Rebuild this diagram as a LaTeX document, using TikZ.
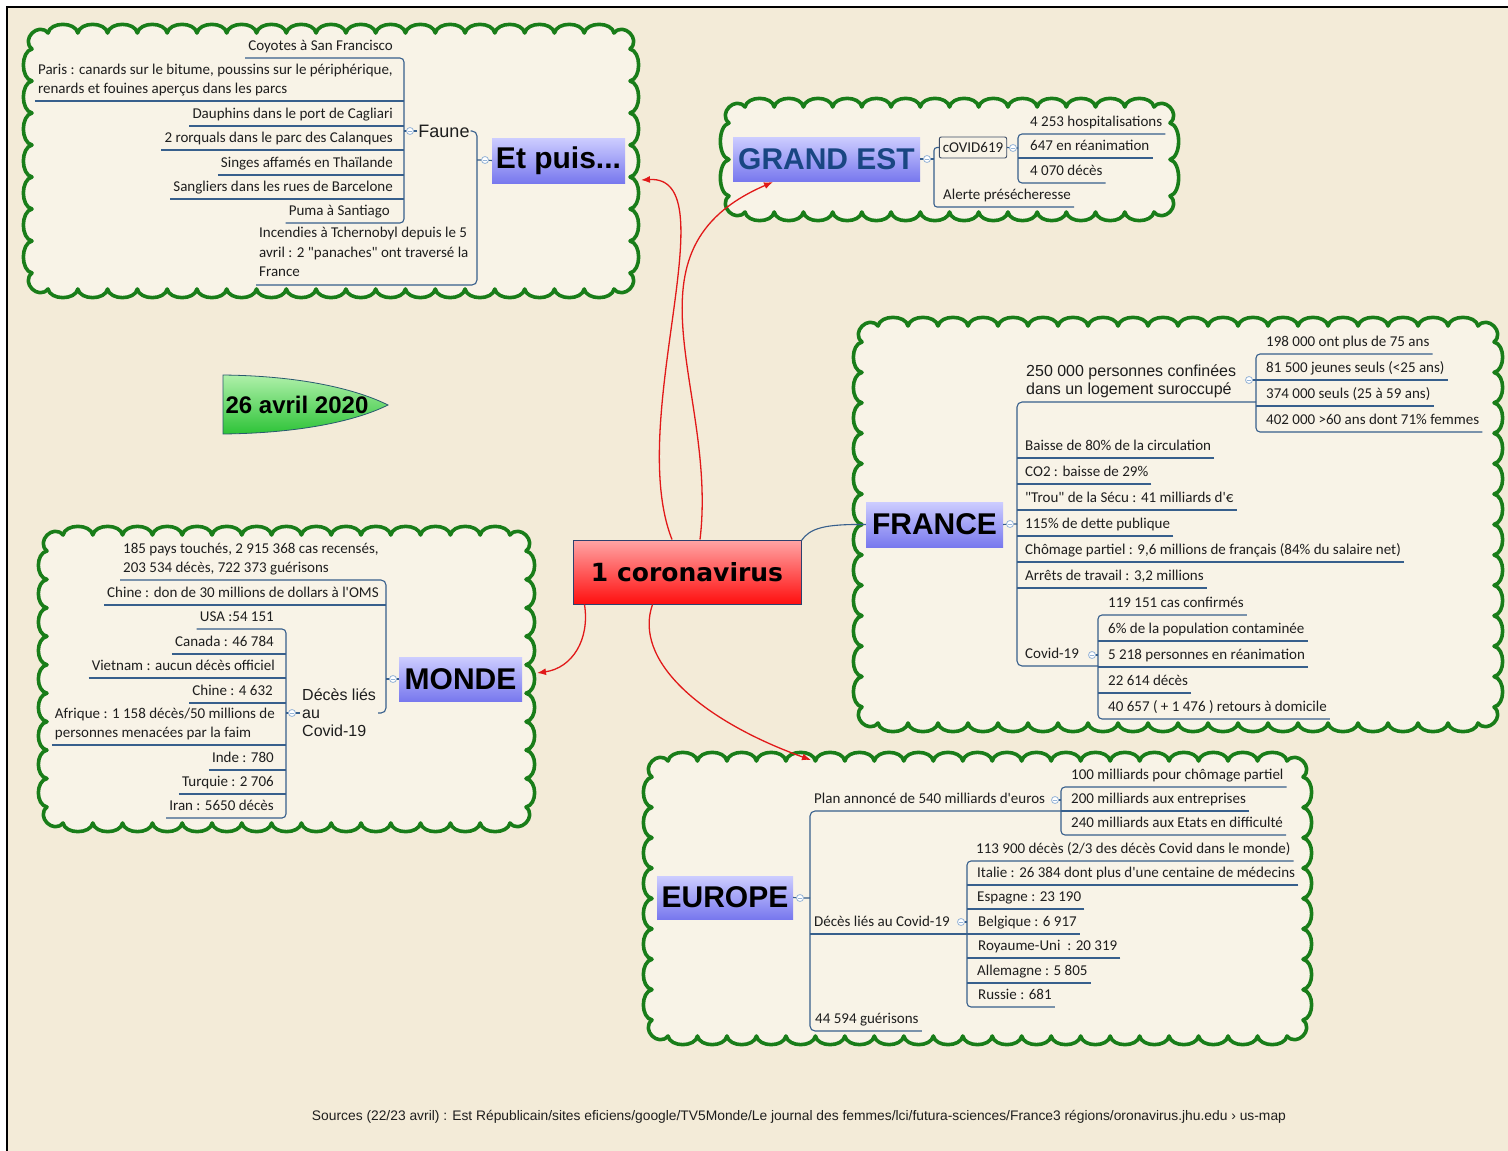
\documentclass[tikz,border=0pt]{standalone}
\usepackage{fontspec}
\setmainfont{Carlito}
\newfontfamily\arialf{Liberation Sans}
\newfontfamily\dejaf{DejaVu Sans}
\usepackage{graphicx}
\usetikzlibrary{arrows.meta}

\definecolor{bg}{RGB}{243,235,216}
\definecolor{cloudfill}{RGB}{248,243,231}
\definecolor{cloudgreen}{RGB}{25,125,25}
\definecolor{conncol}{RGB}{55,95,140}
\definecolor{lavtop}{RGB}{205,205,255}
\definecolor{lavbot}{RGB}{120,120,238}
\definecolor{redtop}{RGB}{255,165,165}
\definecolor{redbot}{RGB}{255,15,15}
\definecolor{cvborder}{RGB}{45,65,110}
\definecolor{arrowred}{RGB}{225,25,25}
\definecolor{knobcol}{RGB}{150,180,215}
\definecolor{gestext}{RGB}{25,70,130}
\definecolor{greentop}{RGB}{175,240,170}
\definecolor{greenbot}{RGB}{45,195,55}
\definecolor{datebd}{RGB}{40,90,110}
\definecolor{textcol}{RGB}{30,30,30}
\definecolor{covcol}{RGB}{60,75,100}

\newcommand\leaffont{\fontsize{15}{19}\selectfont}
\newcommand\bigfont{\arialf\bfseries\fontsize{30}{32}\selectfont}
\newcommand\midfont{\arialf\fontsize{16}{18}\selectfont}
\newcommand\sq{\textquotesingle}
\newcommand\dq{\textquotedbl}

\newcommand\sbc{16}
\newcommand\sbk{11.5}
\newcommand\sbp{30}

\tikzset{
  cloud/.style={draw=cloudgreen, line width=3.6pt, fill=cloudfill, line join=round},
  conn/.style={draw=conncol, line width=1.1pt},
  redc/.style={draw=arrowred, line width=1.3pt, -{Latex[length=9pt,width=7pt]}},
  leaf/.style={font=\leaffont, text=textcol, inner xsep=3pt, inner ysep=2pt, align=left, execute at end node=\strut},
  lsE/.style={leaf, anchor=south east},
  lsW/.style={leaf, anchor=south west},
  maintopic/.style={inner sep=0pt, top color=lavtop, bottom color=lavbot, font=\bigfont, text=black},
  covbox/.style={draw=covcol, line width=0.9pt, rounded corners=2pt, fill=cloudfill, font=\leaffont, text=textcol, inner xsep=3.5pt, inner ysep=1pt, minimum height=21pt},
  knob/.style={circle, draw=knobcol, fill=white, line width=0.8pt, minimum size=7pt, inner sep=0pt,
    path picture={\draw[knobcol, line width=0.7pt] ([xshift=-2pt]path picture bounding box.center) -- ([xshift=2pt]path picture bounding box.center);}}
}

\newcommand\scallop[4]{%
  \pgfmathsetmacro\sxa{#1+\sbc}%
  \pgfmathsetmacro\sxb{#3-\sbc}%
  \pgfmathsetmacro\sya{#2+\sbc}%
  \pgfmathsetmacro\syb{#4-\sbc}%
  \pgfmathtruncatemacro\snh{max(1,round((\sxb-\sxa)/\sbp))}%
  \pgfmathtruncatemacro\snv{max(1,round((\syb-\sya)/\sbp))}%
  \pgfmathsetmacro\swh{(\sxb-\sxa)/\snh}%
  \pgfmathsetmacro\swv{(\syb-\sya)/\snv}%
  \path[cloud] (\sxa,#2)
   \foreach \i in {1,...,\snh}{ .. controls ({\sxa+(\i-0.92)*\swh},{#2-\sbk}) and ({\sxa+(\i-0.08)*\swh},{#2-\sbk}) .. ({\sxa+\i*\swh},#2) }
   .. controls ({\sxb+0.6*\sbc},{#2-\sbk}) and ({#3+\sbk},{\sya-0.6*\sbc}) .. (#3,\sya)
   \foreach \i in {1,...,\snv}{ .. controls ({#3+\sbk},{\sya+(\i-0.92)*\swv}) and ({#3+\sbk},{\sya+(\i-0.08)*\swv}) .. (#3,{\sya+\i*\swv}) }
   .. controls ({#3+\sbk},{\syb+0.6*\sbc}) and ({\sxb+0.6*\sbc},{#4+\sbk}) .. (\sxb,#4)
   \foreach \i in {1,...,\snh}{ .. controls ({\sxb-(\i-0.92)*\swh},{#4+\sbk}) and ({\sxb-(\i-0.08)*\swh},{#4+\sbk}) .. ({\sxb-\i*\swh},#4) }
   .. controls ({\sxa-0.6*\sbc},{#4+\sbk}) and ({#1-\sbk},{\syb+0.6*\sbc}) .. (#1,\syb)
   \foreach \i in {1,...,\snv}{ .. controls ({#1-\sbk},{\syb-(\i-0.92)*\swv}) and ({#1-\sbk},{\syb-(\i-0.08)*\swv}) .. (#1,{\syb-\i*\swv}) }
   .. controls ({#1-\sbk},{\sya-0.6*\sbc}) and ({\sxa-0.6*\sbc},{#2-\sbk}) .. (\sxa,#2) -- cycle;
}

\begin{document}
\begin{tikzpicture}[x=1pt,y=-1pt]
\useasboundingbox (0,0) rectangle (1508,1151);
\fill[white] (0,0) rectangle (1508,1151);
\fill[bg] (7,7) rectangle (1508,1151);
\draw[black, line width=2.5pt] (7,1151) -- (7,7) -- (1508,7);

% clouds
\scallop{32}{33}{630}{289}
\scallop{729}{107}{1170}{212}
\scallop{862}{326}{1494}{723}
\scallop{47}{535}{526}{823}
\scallop{652}{761}{1303}{1036}

% ---------- Box 1 : Et puis ----------
\node[maintopic, minimum width=133pt, minimum height=45pt] (ep) at (558.5,160.5) {Et puis...};
\coordinate (kep) at (485,160);
\coordinate (v0) at (477,0);
\node[font=\arialf\fontsize{18}{20}\selectfont, text=textcol, inner sep=1pt] (faune) at (444,131) {Faune};
\coordinate (kfa) at (410,131);
\coordinate (v1) at (404,0);
\node[lsE] (a1) at (396,58) {Coyotes à San Francisco};
\node[lsE] (a2) at (396,101) {Paris : canards sur le bitume, poussins sur le périphérique,\\renards et fouines aperçus dans les parcs};
\node[lsE] (a3) at (396,126) {Dauphins dans le port de Cagliari};
\node[lsE] (a4) at (396,150) {2 rorquals dans le parc des Calanques};
\node[lsE] (a5) at (396,175) {Singes affamés en Thaïlande};
\node[lsE] (a6) at (396,199) {Sangliers dans les rues de Barcelone};
\node[lsE] (a7) at (393,223) {Puma à Santiago};
\node[leaf, anchor=south west, font=\fontsize{15}{19.5}\selectfont] (ai) at (256,285) {Incendies à Tchernobyl depuis le 5\\avril : 2 \dq panaches\dq{} ont traversé la\\France};

\draw[conn] (ep.west) -- (kep) -- (kep -| v0);
\draw[conn, rounded corners=5pt] (faune.east) -- (faune.east -| v0) -- (ai.south west -| v0) -- (ai.south west);
\draw[conn] (faune.west) -- (kfa) -- (kfa -| v1);
\draw[conn, rounded corners=4pt] (a1.south west) -- (a1.south west -| v1) -- (a7.south west -| v1) -- (a7.south west);
\foreach \n in {a2,a3,a4,a5,a6} \draw[conn] (\n.south west) -- (\n.south west -| v1);

% ---------- Box 2 : Grand Est ----------
\node[maintopic, text=gestext, minimum width=187pt, minimum height=44pt] (ge) at (826.5,159) {GRAND EST};
\coordinate (kge) at (927,159);
\coordinate (v2) at (934,0);
\node[covbox] (cov) at (973,147.5) {cOVID619};
\coordinate (kcov) at (1013,148);
\coordinate (v3) at (1018,0);
\node[lsW] (g1) at (1027,134) {4 253 hospitalisations};
\node[lsW] (g2) at (1027,158) {647 en réanimation};
\node[lsW] (g3) at (1027,183) {4 070 décès};
\node[lsW] (g4) at (940,207) {Alerte présécheresse};

\draw[conn] (ge.east) -- (kge) -- (kge -| v2);
\draw[conn, rounded corners=3pt] (cov.west) -- (cov.west -| v2) -- (g4.south west -| v2) -- (g4.south east);
\draw[conn] (cov.east) -- (kcov) -- (kcov -| v3);
\draw[conn, rounded corners=4pt] (g1.south east) -- (g1.south west -| v3) -- (g3.south west -| v3) -- (g3.south east);
\draw[conn] (g2.south east) -- (g2.south west -| v3);

% ---------- Box 3 : France ----------
\node[maintopic, minimum width=137pt, minimum height=45pt] (fr) at (934.5,524.5) {FRANCE};
\coordinate (kfr) at (1010,524);
\coordinate (v4) at (1017,0);
\node[leaf, font=\midfont, anchor=south west] (f0) at (1023,402) {250 000 personnes confinées\\dans un logement suroccupé};
\coordinate (kf0) at (1249,380);
\coordinate (v5) at (1256,0);
\node[lsW] (p1) at (1263,354) {198 000 ont plus de 75 ans};
\node[lsW] (p2) at (1263,380) {81 500 jeunes seuls (<25 ans)};
\node[lsW] (p3) at (1263,406) {374 000 seuls (25 à 59 ans)};
\node[lsW] (p4) at (1263,432) {402 000 >60 ans dont 71\% femmes};
\node[lsW] (f1) at (1022,458) {Baisse de 80\% de la circulation};
\node[lsW] (f2) at (1022,484) {CO2 : baisse de 29\%};
\node[lsW] (f3) at (1022,510) {\dq Trou\dq{} de la Sécu : 41 milliards d\sq €};
\node[lsW] (f4) at (1022,536) {115\% de dette publique};
\node[lsW] (f5) at (1022,562) {Chômage partiel : 9,6 millions de français (84\% du salaire net)};
\node[lsW] (f6) at (1022,588) {Arrêts de travail : 3,2 millions};
\node[lsW] (f7) at (1022,666) {Covid-19};
\coordinate (kf7) at (1092,655);
\coordinate (v6) at (1098,0);
\node[lsW] (q1) at (1105,615) {119 151 cas confirmés};
\node[lsW] (q2) at (1105,641) {6\% de la population contaminée};
\node[lsW] (q3) at (1105,667) {5 218 personnes en réanimation};
\node[lsW] (q4) at (1105,693) {22 614 décès};
\node[lsW] (q5) at (1105,719) {40 657 ( + 1 476 ) retours à domicile};

\draw[conn] (fr.east) -- (kfr) -- (kfr -| v4);
\draw[conn, rounded corners=5pt] (f0.south west -| v5) -- (f0.south west -| v4) -- (f7.south west -| v4) -- (f7.south west -| v6);
\foreach \n in {f1,f2,f3,f4,f5,f6} \draw[conn] (\n.south east) -- (\n.south west -| v4);
\draw[conn] (kf0) -- (kf0 -| v5);
\draw[conn, rounded corners=4pt] (p1.south east) -- (p1.south west -| v5) -- (p4.south west -| v5) -- (p4.south east);
\foreach \n in {p2,p3} \draw[conn] (\n.south east) -- (\n.south west -| v5);
\draw[conn] (kf7) -- (kf7 -| v6);
\draw[conn, rounded corners=4pt] (q1.south east) -- (q1.south west -| v6) -- (q5.south west -| v6) -- (q5.south east);
\foreach \n in {q2,q3,q4} \draw[conn] (\n.south east) -- (\n.south west -| v6);

% ---------- Box 4 : Monde ----------
\node[maintopic, minimum width=123pt, minimum height=44pt] (mo) at (460.5,679) {MONDE};
\coordinate (kmo) at (393,679);
\coordinate (v7) at (386,0);
\node[lsW] (m1) at (120,580) {185 pays touchés, 2 915 368 cas recensés,\\203 534 décès, 722 373 guérisons};
\node[lsE] (m2) at (382,605) {Chine : don de 30 millions de dollars à l\sq OMS};
\node[font=\midfont, text=textcol, align=left, anchor=west, inner sep=2pt] (dm) at (300,713) {Décès liés\\au\\Covid-19};
\coordinate (kdm) at (292,713);
\coordinate (v8) at (286,0);
\node[lsE] (d1) at (277,629) {USA :54 151};
\node[lsE] (d2) at (277,654) {Canada : 46 784};
\node[lsE] (d3) at (278,678) {Vietnam : aucun décès officiel};
\node[lsE] (d4) at (276,703) {Chine : 4 632};
\node[lsE] (d5) at (278,745) {Afrique : 1 158 décès/50 millions de\\personnes menacées par la faim};
\node[lsE] (d6) at (277,770) {Inde : 780};
\node[lsE] (d7) at (277,794) {Turquie : 2 706};
\node[lsE] (d8) at (277,818) {Iran : 5650 décès};

\draw[conn] (mo.west) -- (kmo) -- (kmo -| v7);
\draw[conn, rounded corners=5pt] (m1.south west) -- (m1.south west -| v7) -- (dm.east -| v7) -- (dm.east);
\draw[conn] (m2.south west) -- (m2.south west -| v7);
\draw[conn] (dm.west) -- (kdm) -- (kdm -| v8);
\draw[conn, rounded corners=4pt] (d1.south west) -- (d1.south west -| v8) -- (d8.south west -| v8) -- (d8.south west);
\foreach \n in {d2,d3,d4,d5,d6,d7} \draw[conn] (\n.south west) -- (\n.south west -| v8);

% ---------- Box 5 : Europe ----------
\node[maintopic, minimum width=136pt, minimum height=43pt] (eu) at (725,897.5) {EUROPE};
\coordinate (keu) at (800,898);
\coordinate (v9) at (810,0);
\node[lsW] (e1) at (811,811) {Plan annoncé de 540 milliards d\sq euros};
\node[lsW] (e2) at (811,934) {Décès liés au Covid-19};
\node[lsW] (e3) at (812,1031) {44 594 guérisons};
\coordinate (ke1) at (1055,800);
\coordinate (v10) at (1061,0);
\node[lsW] (e11) at (1068,787) {100 milliards pour chômage partiel};
\node[lsW] (e12) at (1068,811) {200 milliards aux entreprises};
\node[lsW] (e13) at (1068,835) {240 milliards aux Etats en difficulté};
\coordinate (ke2) at (961,922);
\coordinate (v11) at (967,0);
\node[lsW] (e21) at (973,861) {113 900 décès (2/3 des décès Covid dans le monde)};
\node[lsW] (e22) at (974,885) {Italie : 26 384 dont plus d\sq une centaine de médecins};
\node[lsW] (e23) at (974,909) {Espagne : 23 190};
\node[lsW] (e24) at (975,934) {Belgique : 6 917};
\node[lsW] (e25) at (975,958) {Royaume-Uni~ : 20 319};
\node[lsW] (e26) at (974,983) {Allemagne : 5 805};
\node[lsW] (e27) at (975,1007) {Russie : 681};

\draw[conn] (eu.east) -- (keu) -- (keu -| v9);
\draw[conn, rounded corners=5pt] (e1.south west -| v10) -- (e1.south west -| v9) -- (e3.south west -| v9) -- (e3.south east);
\draw[conn] (e2.south west -| v9) -- (e2.south west -| v11);
\draw[conn] (ke1) -- (ke1 -| v10);
\draw[conn, rounded corners=4pt] (e11.south east) -- (e11.south west -| v10) -- (e13.south west -| v10) -- (e13.south east);
\draw[conn] (e12.south east) -- (e12.south west -| v10);
\draw[conn] (ke2) -- (ke2 -| v11);
\draw[conn, rounded corners=4pt] (e21.south east) -- (e21.south west -| v11) -- (e27.south west -| v11) -- (e27.south east);
\foreach \n in {e22,e23,e24,e25,e26} \draw[conn] (\n.south east) -- (\n.south west -| v11);

% ---------- centre ----------
\node[draw=cvborder, line width=1pt, top color=redtop, bottom color=redbot, minimum width=228pt, minimum height=64pt, inner sep=0pt, font=\dejaf\bfseries\fontsize{25}{27}\selectfont, text=black] (cv) at (687,572) {1 coronavirus};

\coordinate (epT) at (641,180);
\coordinate (geT) at (773,182);
\coordinate (moT) at (537,673);
\coordinate (euT) at (811,760);
\draw[redc] ([xshift=-15pt]cv.north) .. controls (625,420) and (730,175) .. (epT);
\draw[redc] ([xshift=13pt]cv.north) .. controls (718,390) and (615,250) .. (geT);
\draw[redc] ([xshift=12pt]cv.south west) .. controls (590,640) and (572,668) .. (moT);
\draw[redc] ([xshift=80pt]cv.south west) .. controls (633,660) and (700,720) .. (euT);
\draw[conn] ([yshift=-1pt]cv.north east) .. controls (810,528) and (825,524) .. (fr.west);

% knobs
\foreach \k in {kep,kfa,kge,kcov,kfr,kf0,kf7,kmo,kdm,keu,ke1,ke2}
  \node[knob] (\k-n) at (\k) {};

% date
\draw[draw=datebd, line width=0.8pt, top color=greentop, bottom color=greenbot] (223,375) .. controls (310,376) and (362,392) .. (388,405) .. controls (362,418) and (310,433) .. (223,434) -- cycle;
\node[font=\arialf\bfseries\fontsize{24}{26}\selectfont, text=black, inner sep=0pt] (date) at (297,405) {26 avril 2020};

% footer
\node[font=\arialf, text=textcol, inner sep=0pt] (src) at (799,1117) {\resizebox{974pt}{!}{\fontsize{13}{15}\selectfont Sources (22/23 avril) : Est Républicain/sites eficiens/google/TV5Monde/Le journal des femmes/lci/futura-sciences/France3 régions/oronavirus.jhu.edu › us-map}};
\end{tikzpicture}
\end{document}
